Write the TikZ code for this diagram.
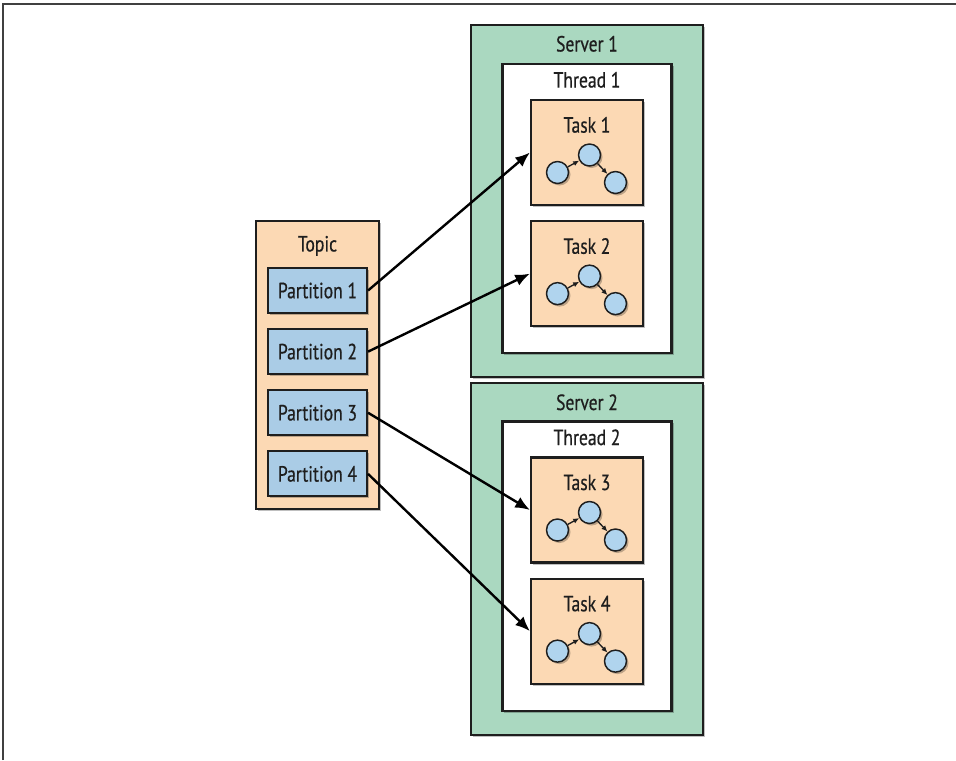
\documentclass[tikz,border=0pt]{standalone}
\usepackage{fontspec}
\setmainfont{PT Sans}[FakeStretch=0.8, FakeBold=0.5]
\usepackage{tikz}
\usetikzlibrary{arrows.meta, positioning, fit, backgrounds, shadows}
\definecolor{servergreen}{RGB}{170,216,192}
\definecolor{taskpeach}{RGB}{252,217,180}
\definecolor{partblue}{RGB}{170,204,230}
\definecolor{vertexblue}{RGB}{176,212,238}
\definecolor{linedark}{RGB}{30,30,30}
\definecolor{textdark}{RGB}{30,30,30}
\pgfdeclarelayer{serverlayer}
\pgfsetlayers{serverlayer,background,main}

\begin{document}
\begin{tikzpicture}[
    x=0.75pt, y=-0.75pt,
    font=\fontsize{16.5}{18}\selectfont,
    node distance=10.5pt,
    softshadow/.style={drop shadow={shadow xshift=1.5pt, shadow yshift=-1.5pt,
                       opacity=0.25, fill=black}},
    box/.style={rectangle, draw=linedark, line width=1.6pt, softshadow},
    taskbox/.style={box, fill=taskpeach, minimum width=84pt, minimum height=78.75pt},
    partbox/.style={box, fill=partblue, minimum width=74.25pt,
                    minimum height=33.75pt, inner sep=0pt, text=textdark},
    threadbox/.style={box, fill=white, inner xsep=20.6pt, inner ysep=19.5pt},
    serverbox/.style={box, fill=servergreen, inner xsep=23pt, inner ysep=17.25pt},
    topicbox/.style={box, fill=taskpeach, inner sep=8.5pt},
    boxtitle/.style={anchor=center, yshift=#1, text=textdark},
    vertex/.style={circle, draw=linedark, line width=1.1pt, fill=vertexblue,
                   minimum size=16.5pt, inner sep=0pt, softshadow},
    arr/.style={-{Latex[length=11pt, width=9pt]}, line width=1.8pt, draw=black},
    dotarr/.style={-{Latex[length=4.5pt, width=4pt]}, line width=1pt, draw=linedark}
]
\useasboundingbox (0,0) rectangle (956,760);
\draw[line width=1.2pt, black!75] (3,760) -- (3,4) -- (956,4);

% tasks
\node[taskbox, label={[boxtitle=-19.5pt]north:Task 1}] (task1) at (587,152.5) {};
\node[taskbox, below=of task1, label={[boxtitle=-19.5pt]north:Task 2}] (task2) {};
\node[taskbox, label={[boxtitle=-19.5pt]north:Task 3}] (task3) at (587,510) {};
\node[taskbox, below=of task3, label={[boxtitle=-19.5pt]north:Task 4}] (task4) {};

\foreach \t in {task1,task2,task3,task4}{
    \node[vertex] (\t-a) at ([shift={(-29.5,20)}]\t.center) {};
    \node[vertex] (\t-b) at ([shift={(2.5,2.5)}]\t.center) {};
    \node[vertex] (\t-c) at ([shift={(28.5,30)}]\t.center) {};
    \draw[dotarr] (\t-a) -- (\t-b);
    \draw[dotarr] (\t-b) -- (\t-c);
}

% threads and servers
\coordinate (t1top) at ([yshift=6.75pt]task1.north);
\coordinate (t2top) at ([yshift=6.75pt]task3.north);
\begin{scope}[on background layer]
\node[threadbox, fit=(t1top)(task1)(task2),
      label={[boxtitle=-12.75pt]north:Thread 1}] (thread1) {};
\node[threadbox, fit=(t2top)(task3)(task4),
      label={[boxtitle=-12.75pt]north:Thread 2}] (thread2) {};
\end{scope}

\coordinate (s1top) at ([yshift=11.25pt]thread1.north);
\coordinate (s2top) at ([yshift=10.5pt]thread2.north);
\begin{pgfonlayer}{serverlayer}
\node[serverbox, fit=(s1top)(thread1),
      label={[boxtitle=-15pt]north:Server 1}] (server1) {};
\node[serverbox, fit=(s2top)(thread2),
      label={[boxtitle=-15pt]north:Server 2}] (server2) {};
\end{pgfonlayer}

% topic
\node[partbox] (part1) at (317.5,290.5) {Partition 1};
\node[partbox, below=of part1] (part2) {Partition 2};
\node[partbox, below=of part2] (part3) {Partition 3};
\node[partbox, below=of part3] (part4) {Partition 4};

\coordinate (ptop) at ([yshift=26pt]part1.north);
\begin{scope}[on background layer]
\node[topicbox, fit=(ptop)(part1)(part4),
      label={[boxtitle=-19.5pt]north:Topic}] (topic) {};
\end{scope}

\draw[arr] (part1.east) -- (task1.west);
\draw[arr] (part2.east) -- (task2.west);
\draw[arr] (part3.east) -- (task3.west);
\draw[arr] (part4.east) -- (task4.west);
\end{tikzpicture}
\end{document}
